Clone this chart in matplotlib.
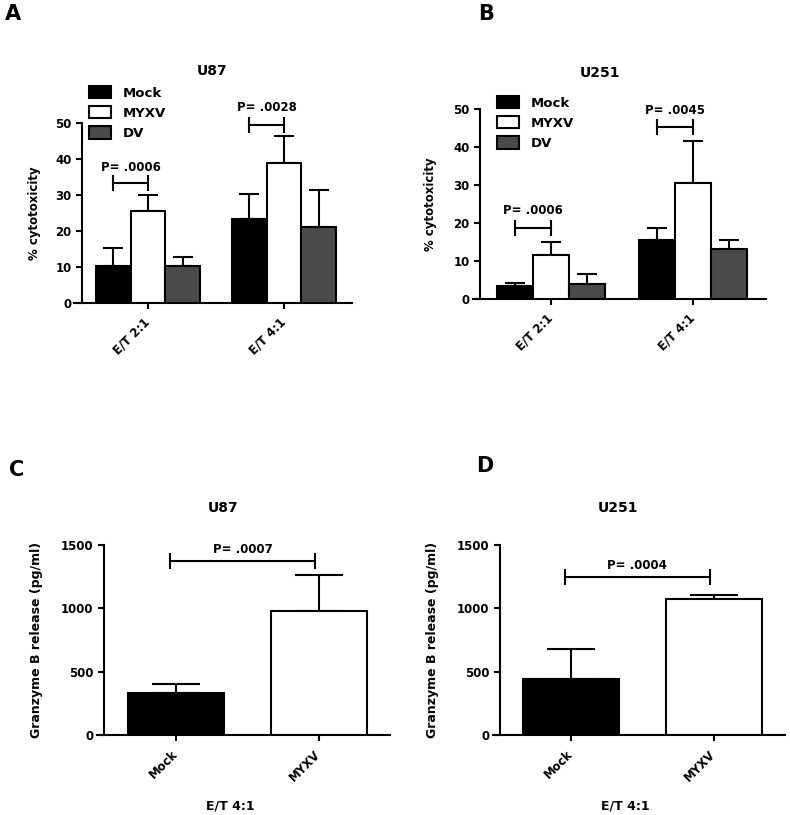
import matplotlib
matplotlib.use("Agg")
import matplotlib.pyplot as plt
import numpy as np

plt.rcParams['font.family'] = ['DejaVu Sans']
plt.rcParams['font.weight'] = 'bold'

# ---- data ----
groups_AB = ["E/T 2:1", "E/T 4:1"]
series = ["Mock", "MYXV", "DV"]
colors = ["#000000", "#ffffff", "#4a4a4a"]

u87_cyto = {"Mock": [10.4, 23.2], "MYXV": [25.6, 39.0], "DV": [10.4, 21.2]}
u87_cyto_err = {"Mock": [4.8, 7.2], "MYXV": [4.4, 7.4], "DV": [2.5, 10.1]}
u251_cyto = {"Mock": [3.5, 15.4], "MYXV": [11.6, 30.6], "DV": [4.0, 13.1]}
u251_cyto_err = {"Mock": [0.8, 3.2], "MYXV": [3.5, 10.9], "DV": [2.5, 2.4]}

p_A = ["P= .0006", "P= .0028"]
pbr_A = [33.3, 49.4]
ptxt_A = [37.7, 54.4]
p_B = ["P= .0006", "P= .0045"]
pbr_B = [18.6, 45.3]
ptxt_B = [23.2, 49.6]

cats_CD = ["Mock", "MYXV"]
u87_gzb = [334, 976]
u87_gzb_err = [69, 285]
u251_gzb = [439, 1074]
u251_gzb_err = [243, 29]
p_C, pbr_C, ptxt_C = "P= .0007", 1374, 1463
p_D, pbr_D, ptxt_D = "P= .0004", 1250, 1337

W, H = 790, 815
fig = plt.figure(figsize=(W / 100, H / 100), dpi=100)

def add_ax(l, r, b, t):
    return fig.add_axes([l / W, (H - b) / H, (r - l) / W, (b - t) / H])

LW = 1.5
TICKFS = 8.5

def style(ax, ylim, yticks, yaxis_frac):
    for s in ["top", "right"]:
        ax.spines[s].set_visible(False)
    ax.spines["left"].set_position(("axes", yaxis_frac))
    ax.spines["left"].set_linewidth(LW)
    ax.spines["bottom"].set_linewidth(LW)
    ax.set_ylim(*ylim)
    ax.set_yticks(yticks)
    ax.tick_params(axis="both", direction="out", length=4.5, width=LW,
                   labelsize=TICKFS, pad=3)
    for lab in ax.get_yticklabels():
        lab.set_fontweight("bold")

def bracket(ax, x1, x2, y, txt, ty):
    ax.plot([x1, x2], [y, y], color="black", lw=LW, clip_on=False)
    ax.plot([x1, x2], [y, y], color="black", lw=0, marker="|",
            markersize=11, markeredgewidth=LW, clip_on=False)
    ax.text((x1 + x2) / 2, ty, txt, ha="center", va="center",
            fontsize=8.5, fontweight="bold", clip_on=False)

def grouped(ax, vals, errs, xlim, pl, pbr, ptxt, legend_anchor, lpad):
    w = 0.254
    x = np.arange(len(groups_AB))
    offs = [-w, 0, w]
    for s, c, o in zip(series, colors, offs):
        ax.bar(x + o, vals[s], width=w, color=c, edgecolor="black",
               linewidth=LW, label=s, zorder=3)
        ax.errorbar(x + o, vals[s], yerr=[np.zeros(len(x)), errs[s]],
                    fmt="none", ecolor="black", elinewidth=LW,
                    capsize=7.5, capthick=LW, zorder=2)
    ax.set_xlim(*xlim)
    ax.set_xticks(x)
    ax.set_xticklabels(groups_AB, rotation=45, ha="right", va="center",
                       rotation_mode="anchor", fontsize=TICKFS,
                       fontweight="bold")
    ax.tick_params(axis="x", pad=8)
    for i in range(2):
        bracket(ax, i - w, i, pbr[i], pl[i], ptxt[i])
    ax.set_ylabel("% cytotoxicity", fontsize=8.5, fontweight="bold",
                  labelpad=lpad)
    leg = ax.legend(loc="upper left",
                    bbox_to_anchor=(legend_anchor[0] / W, 1 - legend_anchor[1] / H),
                    bbox_transform=fig.transFigure, frameon=False,
                    fontsize=9.5, handlelength=1.7, handleheight=1.05,
                    labelspacing=0.5, handletextpad=0.85, borderpad=0,
                    borderaxespad=0)
    for t in leg.get_texts():
        t.set_fontweight("bold")

def two_bar(ax, vals, errs, xlim, pl, pbr, ptxt, lpad):
    x = np.arange(len(cats_CD))
    ax.bar(x, vals, width=0.67, color=["#000000", "#ffffff"],
           edgecolor="black", linewidth=LW, zorder=3)
    ax.errorbar(x, vals, yerr=[np.zeros(len(x)), errs], fmt="none",
                ecolor="black", elinewidth=LW, capsize=17.5, capthick=LW,
                zorder=2)
    ax.set_xlim(*xlim)
    ax.set_xticks(x)
    ax.set_xticklabels(cats_CD, rotation=45, ha="right", va="center",
                       rotation_mode="anchor", fontsize=TICKFS,
                       fontweight="bold")
    ax.tick_params(axis="x", pad=8)
    bracket(ax, x[0] - 0.04, x[1] - 0.03, pbr, pl, ptxt)
    ax.set_ylabel("Granzyme B release (pg/ml)", fontsize=9,
                  fontweight="bold", labelpad=lpad)

# Panel A
axA = add_ax(74, 352, 303, 123)
style(axA, (0, 50), [0, 10, 20, 30, 40, 50], 8 / 278)
grouped(axA, u87_cyto, u87_cyto_err, (-0.544, 1.5), p_A, pbr_A, ptxt_A,
        (89, 86), 10)

# Panel B
axB = add_ax(473, 766, 299, 109)
style(axB, (0, 50), [0, 10, 20, 30, 40, 50], 7 / 293)
grouped(axB, u251_cyto, u251_cyto_err, (-0.549, 1.514), p_B, pbr_B, ptxt_B,
        (497, 96), 11.5)

# Panel C
axC = add_ax(97, 390, 735, 545)
style(axC, (0, 1500), [0, 500, 1000, 1500], 7 / 293)
two_bar(axC, u87_gzb, u87_gzb_err, (-0.552, 1.497), p_C, pbr_C, ptxt_C, 13)

# Panel D
axD = add_ax(493, 785, 735, 545)
style(axD, (0, 1500), [0, 500, 1000, 1500], 7 / 292)
two_bar(axD, u251_gzb, u251_gzb_err, (-0.545, 1.497), p_D, pbr_D, ptxt_D, 13)

def ftext(x, y, s, size, **kw):
    fig.text(x / W, 1 - y / H, s, fontsize=size, fontweight="bold",
             ha="center", va="center", **kw)

ftext(212, 71, "U87", 10)
ftext(600, 73, "U251", 10)
ftext(223, 508, "U87", 10)
ftext(618, 508, "U251", 10)
ftext(230, 806, "E/T 4:1", 9)
ftext(625, 806, "E/T 4:1", 9)
ftext(13, 14, "A", 15)
ftext(486, 14, "B", 15)
ftext(17, 470, "C", 15)
ftext(485, 466, "D", 15)

fig.savefig("out.png", dpi=100, facecolor="white")
